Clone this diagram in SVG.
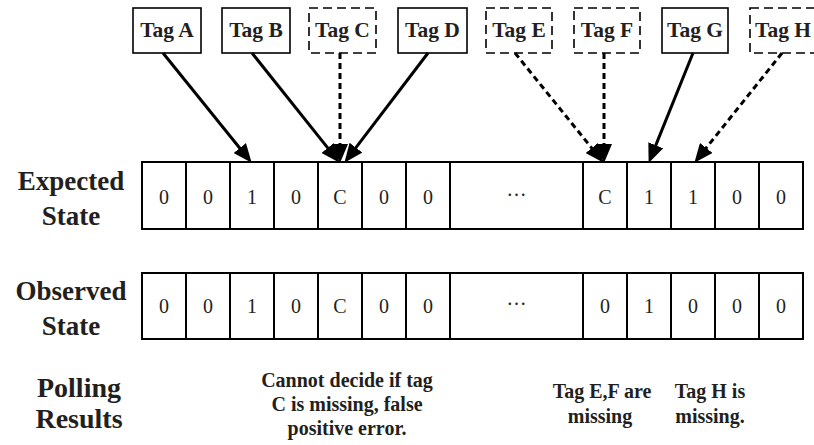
<svg xmlns="http://www.w3.org/2000/svg" width="814" height="445" viewBox="0 0 814 445">
<style>
.tag{fill:#fff;stroke:#000;stroke-width:1.6}
.dash{stroke-dasharray:9,5}
.tt{font-family:"Liberation Serif","Times New Roman",serif;font-weight:bold;font-size:21.5px;fill:#231f20;text-anchor:middle}
.lbl{font-family:"Liberation Serif","Times New Roman",serif;font-weight:bold;font-size:27px;fill:#231f20;text-anchor:middle}
.res{font-family:"Liberation Serif","Times New Roman",serif;font-weight:bold;font-size:20px;fill:#231f20;text-anchor:middle}
.cell{fill:#fff;stroke:#000;stroke-width:2}
.div{stroke:#000;stroke-width:2}
.val{font-family:"Liberation Serif","Times New Roman",serif;font-size:20px;fill:#231f20;text-anchor:middle}
.arr{stroke:#000;stroke-width:3;fill:none;marker-end:url(#ah)}
.arrd{stroke-dasharray:6,4}
</style>
<defs>
<marker id="ah" markerUnits="userSpaceOnUse" markerWidth="19" markerHeight="16" refX="6" refY="8" orient="auto">
<path d="M0,0 L19,8 L0,16 z" fill="#000"/>
</marker>
</defs>

<g id="tagA"><rect class="tag" x="133" y="8" width="68" height="45"/><text class="tt" x="167" y="37">Tag A</text></g>
<g id="tagB"><rect class="tag" x="222" y="8" width="68" height="45"/><text class="tt" x="256" y="37">Tag B</text></g>
<g id="tagC"><rect class="tag dash" x="309" y="8" width="67" height="45"/><text class="tt" x="342.5" y="37">Tag C</text></g>
<g id="tagD"><rect class="tag" x="398" y="8" width="69" height="45"/><text class="tt" x="432.5" y="37">Tag D</text></g>
<g id="tagE"><rect class="tag dash" x="486" y="8" width="66" height="45"/><text class="tt" x="519" y="37">Tag E</text></g>
<g id="tagF"><rect class="tag dash" x="574" y="8" width="66" height="45"/><text class="tt" x="607" y="37">Tag F</text></g>
<g id="tagG"><rect class="tag" x="662" y="8" width="66" height="45"/><text class="tt" x="695" y="37">Tag G</text></g>
<g id="tagH"><rect class="tag dash" x="750" y="8" width="68" height="45"/><text class="tt" x="783" y="37">Tag H</text></g>

<g id="expected">
<text class="lbl" x="71" y="190">Expected</text>
<text class="lbl" x="71" y="225">State</text>
<rect class="cell" x="142" y="162" width="661" height="67"/>
<path class="div" d="M186,162V229M230,162V229M274,162V229M318,162V229M362,162V229M406,162V229M450,162V229M583,162V229M627,162V229M671,162V229M715,162V229M759,162V229"/>
<text class="val" x="164" y="204">0</text>
<text class="val" x="208" y="204">0</text>
<text class="val" x="252" y="204">1</text>
<text class="val" x="296" y="204">0</text>
<text class="val" x="340" y="204">C</text>
<text class="val" x="384" y="204">0</text>
<text class="val" x="428" y="204">0</text>
<text class="val" x="516.5" y="196">…</text>
<text class="val" x="605" y="204">C</text>
<text class="val" x="649" y="204">1</text>
<text class="val" x="693" y="204">1</text>
<text class="val" x="737" y="204">0</text>
<text class="val" x="781" y="204">0</text>
</g>

<g id="observed">
<text class="lbl" x="71" y="300">Observed</text>
<text class="lbl" x="71" y="335">State</text>
<rect class="cell" x="142" y="273" width="661" height="66"/>
<path class="div" d="M186,273V339M230,273V339M274,273V339M318,273V339M362,273V339M406,273V339M450,273V339M583,273V339M627,273V339M671,273V339M715,273V339M759,273V339"/>
<text class="val" x="164" y="313">0</text>
<text class="val" x="208" y="313">0</text>
<text class="val" x="252" y="313">1</text>
<text class="val" x="296" y="313">0</text>
<text class="val" x="340" y="313">C</text>
<text class="val" x="384" y="313">0</text>
<text class="val" x="428" y="313">0</text>
<text class="val" x="516.5" y="305">…</text>
<text class="val" x="605" y="313">0</text>
<text class="val" x="649" y="313">1</text>
<text class="val" x="693" y="313">0</text>
<text class="val" x="737" y="313">0</text>
<text class="val" x="781" y="313">0</text>
</g>

<g id="polling">
<text class="lbl" x="79" y="397" style="font-size:28px">Polling</text>
<text class="lbl" x="79" y="428" style="font-size:28px">Results</text>
<text class="res" x="347" y="387">Cannot decide if tag</text>
<text class="res" x="347" y="411">C is missing, false</text>
<text class="res" x="347" y="435">positive error.</text>
<text class="res" x="602" y="398">Tag E,F are</text>
<text class="res" x="600" y="423">missing</text>
<text class="res" x="710" y="398">Tag H is</text>
<text class="res" x="710" y="423">missing.</text>
</g>

<g id="connectors">
<line class="arr" x1="163" y1="53" x2="243.5" y2="152.7"/>
<line class="arr" x1="252" y1="53" x2="331.5" y2="152.6"/>
<line class="arr arrd" x1="340" y1="53" x2="340" y2="150"/>
<line class="arr" x1="428" y1="53" x2="352.3" y2="152.4"/>
<line class="arr arrd" x1="515" y1="53" x2="595.5" y2="152.7"/>
<line class="arr arrd" x1="604" y1="53" x2="604" y2="150"/>
<line class="arr" x1="693" y1="53" x2="653.5" y2="150.9"/>
<line class="arr arrd" x1="782" y1="53" x2="702.5" y2="152.6"/>
</g>
</svg>
